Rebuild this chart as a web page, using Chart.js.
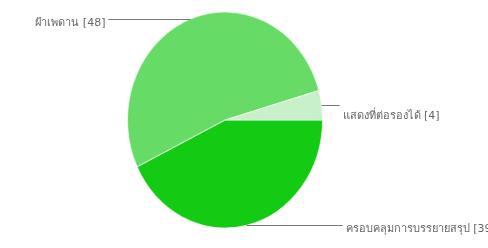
<!DOCTYPE html>
<html>
<head>
<meta charset="utf-8">
<script src="https://cdn.jsdelivr.net/npm/chart.js@4"></script>
<style>
  html, body { margin: 0; padding: 0; background: #fff; }
  #wrap { width: 488px; height: 248px; position: relative; }
</style>
</head>
<body>
<div id="wrap"><canvas id="chart"></canvas></div>
<script>
// slice order follows the picture, clockwise from 3 o'clock
const categories = ['ครอบคลุมการบรรยายสรุป', 'ฝ้าเพดาน', 'แสดงที่ต่อรองได้'];
const counts = [39, 48, 4];
const sliceColors = ['#14cb14', '#66dc66', '#c9f1c9'];

// label side and leader length per slice
const labelSide = ['right', 'left', 'right'];
const leaderLen = [96, 82, 18];
const textDrop = [4, 4, 11];

// the source pie is a little taller than wide
const stretchY = 1.107;

const ovalPie = {
  id: 'ovalPie',
  beforeDatasetsDraw (chart) {
    const arc = chart.getDatasetMeta(0).data[0];
    const ctx = chart.ctx;
    ctx.save();
    ctx.translate(arc.x, arc.y);
    ctx.scale(1, stretchY);
    ctx.translate(-arc.x, -arc.y);
  },
  afterDatasetsDraw (chart) {
    chart.ctx.restore();
  }
};

const leaderLabels = {
  id: 'leaderLabels',
  afterDatasetsDraw (chart) {
    const ctx = chart.ctx;
    const meta = chart.getDatasetMeta(0);
    ctx.save();
    ctx.font = '11px "DejaVu Sans", sans-serif';
    ctx.textBaseline = 'middle';
    meta.data.forEach((arc, i) => {
      const mid = (arc.startAngle + arc.endAngle) / 2;
      const px = arc.x + Math.cos(mid) * arc.outerRadius;
      const py = Math.round(arc.y + Math.sin(mid) * arc.outerRadius * stretchY);
      const dir = labelSide[i] === 'right' ? 1 : -1;
      const ex = px + dir * leaderLen[i];
      ctx.strokeStyle = '#777';
      ctx.lineWidth = 1;
      ctx.beginPath();
      ctx.moveTo(px, py + 0.5);
      ctx.lineTo(ex, py + 0.5);
      ctx.stroke();
      ctx.fillStyle = '#666';
      ctx.textAlign = dir > 0 ? 'left' : 'right';
      ctx.fillText(categories[i] + ' [' + counts[i] + ']', ex + dir * 3, py + textDrop[i]);
    });
    ctx.restore();
  }
};

new Chart(document.getElementById('chart'), {
  type: 'pie',
  data: {
    labels: categories,
    datasets: [{
      data: counts,
      backgroundColor: sliceColors,
      borderColor: 'rgba(255,255,255,0.6)',
      borderWidth: 1
    }]
  },
  options: {
    responsive: true,
    maintainAspectRatio: false,
    animation: false,
    rotation: 90,
    layout: { padding: { top: 22, bottom: 30, left: 100, right: 138 } },
    plugins: {
      legend: { display: false },
      tooltip: { enabled: false }
    }
  },
  plugins: [ovalPie, leaderLabels]
});
</script>
</body>
</html>
